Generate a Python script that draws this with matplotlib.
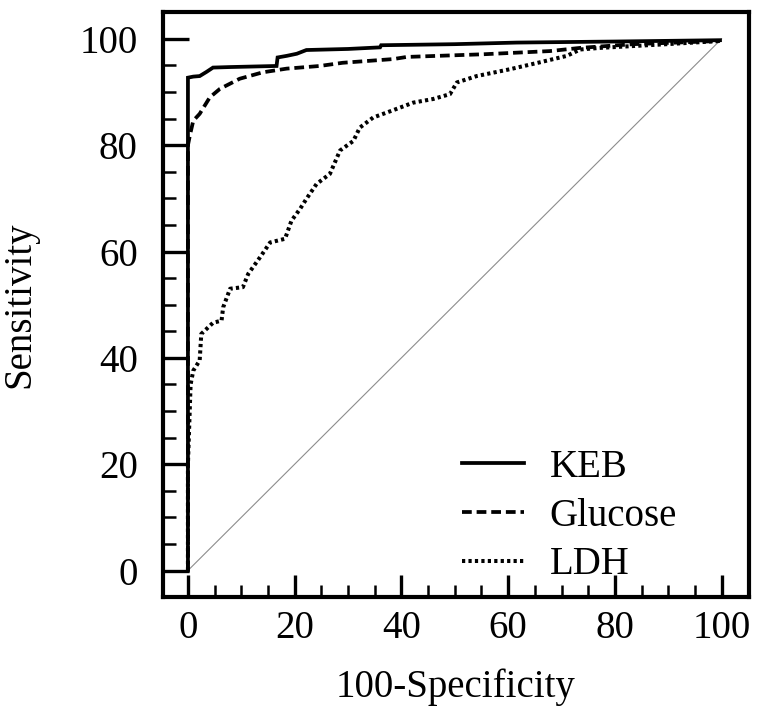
import numpy as np
import matplotlib
matplotlib.use('Agg')
import matplotlib.pyplot as plt
from matplotlib.ticker import MultipleLocator

# ROC-Kurven (100-Spezifitaet, Sensitivitaet)
keb_x = [0, 0, 1, 2.2, 3.5, 4.7, 8, 16.6, 16.8, 18.5, 20.4, 22.2, 30, 36, 36.2, 50, 61.6, 80, 99.7]
keb_y = [0, 92.7, 92.9, 93, 93.8, 94.6, 94.7, 94.9, 96.5, 96.8, 97.2, 97.9, 98.1, 98.4, 98.8, 99, 99.3, 99.5, 99.75]

glu_x = [0, 0, 0.4, 1, 2.2, 4.1, 6, 9.7, 14, 18.5, 24.7, 29, 38.5, 41, 55.3, 67.8, 73.5, 83.4, 99.7]
glu_y = [0, 80, 82, 84.6, 85.9, 89, 90.6, 92.5, 93.7, 94.4, 94.9, 95.5, 96.2, 96.6, 97.1, 97.7, 98.3, 99, 99.6]

ldh_x = [0, 0, 0.5, 1, 2.2, 2.5, 4.7, 6.3, 6.6, 7.9, 10.3, 11.3, 13.5, 15.4, 18.2, 19.4, 21, 22.2,
         24.1, 26.6, 28.5, 31, 32.2, 34.7, 38.5, 42.2, 46, 49.1, 50.4, 54.1, 60.4, 66, 71, 73.5,
         77.2, 89.7, 99.7]
ldh_y = [0, 20, 35, 37.6, 39.5, 44.5, 46.6, 47, 49.5, 53, 53.3, 55.8, 58.9, 61.7, 62.4, 65.8, 68, 69.9,
         72.7, 74.6, 79, 80.8, 83.3, 85.2, 86.6, 88, 88.7, 89.6, 91.8, 93, 94.3, 95.6, 96.8, 98,
         98.3, 99, 99.6]

labels = ['KEB', 'Glucose', 'LDH']

plt.rcParams['font.family'] = ['Liberation Serif', 'DejaVu Serif']
plt.rcParams['font.size'] = 28

fig = plt.figure(figsize=(7.61, 7.22), dpi=100)
ax = fig.add_axes([0.214, 0.173, 0.770, 0.810])

ax.plot([0, 100], [0, 100], color='#8c8c8c', lw=0.8)
ax.plot(keb_x, keb_y, color='black', lw=2.7, solid_joinstyle='miter', label=labels[0])
ax.plot(glu_x, glu_y, color='black', lw=2.7, linestyle=(0, (2.6, 1.3)), label=labels[1])
ax.plot(ldh_x, ldh_y, color='black', lw=2.9, linestyle=(0, (0.8, 0.8)), label=labels[2])

ax.set_xlim(-4.7, 105.1)
ax.set_ylim(-5, 105)

ax.xaxis.set_major_locator(MultipleLocator(20))
ax.xaxis.set_minor_locator(MultipleLocator(5))
ax.yaxis.set_major_locator(MultipleLocator(20))
ax.yaxis.set_minor_locator(MultipleLocator(5))

ax.tick_params(axis='y', which='major', direction='in', length=19, width=2.4, pad=18, labelsize=28)
ax.tick_params(axis='y', which='minor', direction='in', length=9.5, width=1.8)
ax.tick_params(axis='x', which='major', direction='in', length=16, width=2.4, pad=9, labelsize=28)
ax.tick_params(axis='x', which='minor', direction='in', length=8.5, width=1.8)

for s in ax.spines.values():
    s.set_linewidth(3)

ax.set_xlabel('100-Specificity', fontsize=28, labelpad=16)
ax.set_ylabel('Sensitivity', fontsize=28, labelpad=30)

leg = ax.legend(loc='upper left', bbox_to_anchor=(0.607, 0.378), bbox_transform=fig.transFigure,
                frameon=False, fontsize=28, handlelength=1.6, handletextpad=0.65,
                labelspacing=0.3, borderpad=0, borderaxespad=0)

fig.savefig('out.png', dpi=100)
